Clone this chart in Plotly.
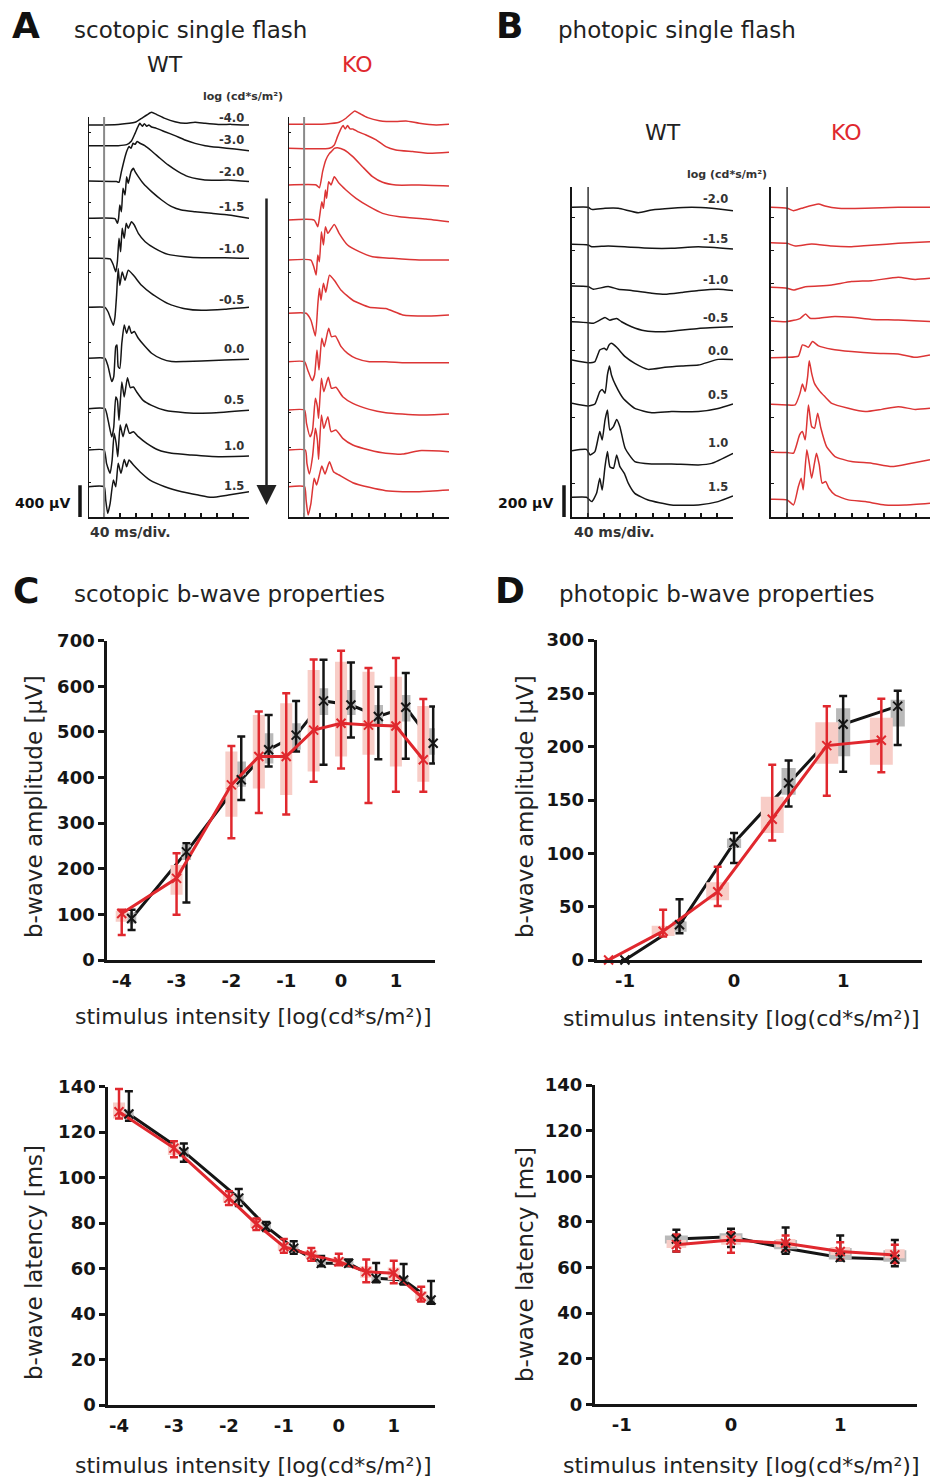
import plotly.graph_objects as go

W, H = 930, 1478
FONT = "DejaVu Sans"
BLACK = "#151515"
RED = "#e0282e"
TRACE_RED = "#dc3535"
PINK = "#f8cdc7"
GRAY = "#b9b9b9"

# ---------------- Panel A: scotopic single-flash ERG traces (t [ms], amplitude [µV] re baseline)
scot_levels = ["-4.0", "-3.0", "-2.0", "-1.5", "-1.0", "-0.5", "0.0", "0.5", "1.0", "1.5"]
scot_wt_offset = [4939, 4679, 4234, 3763, 3259, 2642, 2000, 1365, 844, 382]
scot_ko_offset = [4948, 4646, 4183, 3742, 3238, 2567, 1957, 1348, 844, 382]

sw_m40 = [(0,0),(75,8),(117,34),(133,84),(146,126),(158,160),(170,134),(191,84),(216,42),(241,21),(266,34),(291,21),(324,8),(357,8),(400,0)]
sw_m30 = [(0,0),(75,0),(96,13),(108,59),(117,155),(123,227),(129,281),(135,244),(140,277),(146,244),(151,260),(158,235),(170,218),(191,176),(216,126),(241,71),(266,29),(291,0),(324,-21),(365,-42),(400,-63)]
sw_m20 = [(0,0),(71,-8),(77,-17),(83,118),(90,265),(96,370),(102,433),(107,412),(112,475),(117,462),(122,496),(129,475),(141,445),(158,378),(179,286),(199,202),(224,118),(249,55),(274,25),(307,8),(349,13),(400,-8)]
sw_m15 = [(0,0),(67,-4),(73,-63),(76,0),(79,168),(83,84),(87,378),(92,294),(96,525),(100,441),(107,588),(113,630),(117,588),(125,525),(137,441),(158,336),(183,231),(208,147),(232,105),(266,84),(307,63),(349,42),(400,0)]
sw_m10 = [(0,0),(55,-8),(63,-84),(69,-168),(73,-42),(77,252),(81,84),(85,378),(90,252),(95,441),(100,378),(108,462),(115,420),(125,315),(142,210),(166,126),(199,50),(241,21),(282,8),(340,8),(400,0)]
sw_m05 = [(0,0),(42,0),(50,-59),(63,-227),(67,-122),(71,151),(75,488),(79,277),(85,445),(92,340),(100,466),(113,403),(133,277),(158,172),(199,46),(241,-17),(282,-38),(340,-25),(400,0)]
sw_00 = [(0,0),(42,0),(50,-105),(59,-294),(64,-231),(69,147),(72,168),(75,-105),(79,-126),(84,189),(90,420),(96,315),(102,407),(108,315),(115,336),(125,252),(142,147),(158,63),(183,-8),(208,-42),(241,-42),(282,-34),(340,-21),(400,-13)]
sw_05 = [(0,0),(42,0),(50,-147),(59,-357),(64,-231),(69,147),(73,105),(77,-147),(84,336),(90,147),(98,391),(105,265),(113,273),(121,210),(137,105),(158,42),(191,-21),(241,-50),(307,-55),(400,-21)]
sw_10 = [(0,0),(40,0),(46,-168),(55,-294),(60,-126),(65,210),(70,84),(74,-84),(80,315),(87,168),(95,328),(103,210),(113,231),(125,168),(146,84),(175,0),(208,-42),(257,-63),(324,-84),(400,-76)]
sw_15 = [(0,0),(40,0),(44,-168),(49,-336),(55,-210),(63,84),(69,0),(75,294),(82,168),(90,344),(96,252),(102,336),(113,273),(129,189),(154,84),(191,0),(233,-63),(274,-105),(307,-134),(349,-105),(400,-63)]

sk_m40 = [(0,0),(94,4),(127,25),(144,76),(156,130),(166,168),(177,139),(198,84),(227,46),(268,34),(293,42),(326,13),(368,-8),(400,0)]
sk_m30 = [(0,0),(103,0),(115,42),(123,147),(132,252),(137,286),(142,244),(148,286),(154,244),(161,244),(173,210),(194,168),(219,105),(243,21),(268,-21),(310,-42),(351,-63),(400,-50)]
sk_m20 = [(0,0),(70,0),(78,-34),(86,168),(94,315),(103,399),(109,428),(115,462),(123,470),(140,441),(161,357),(185,231),(210,105),(235,34),(268,0),(326,0),(400,-13)]
sk_m15 = [(0,0),(65,0),(74,-84),(79,63),(84,231),(88,147),(93,378),(96,273),(101,483),(107,441),(115,546),(127,462),(144,378),(169,273),(202,168),(235,84),(277,42),(343,13),(400,-21)]
sk_m10 = [(0,0),(57,0),(64,-84),(70,-189),(74,63),(78,-21),(83,357),(88,189),(93,420),(99,336),(115,449),(127,336),(148,189),(177,105),(210,42),(260,21),(326,0),(400,0)]
sk_m05 = [(0,0),(45,0),(57,-88),(68,-285),(74,105),(78,315),(82,164),(88,378),(94,265),(103,479),(115,416),(132,290),(161,164),(202,76),(243,59),(285,-21),(343,-34),(400,-21)]
sk_00 = [(0,0),(41,0),(49,-105),(60,-239),(66,-168),(72,147),(77,-105),(84,294),(90,189),(101,420),(108,315),(118,323),(132,189),(148,105),(169,42),(202,0),(243,0),(293,-13),(400,-13)]
sk_05 = [(0,0),(41,0),(46,-168),(55,-336),(61,-252),(68,147),(73,42),(76,-105),(83,399),(89,231),(100,412),(108,273),(119,286),(136,168),(161,84),(202,8),(243,-34),(326,-63),(400,-50)]
sk_10 = [(0,0),(43,0),(47,-168),(53,-302),(61,-84),(68,273),(73,126),(76,-118),(83,441),(89,273),(99,420),(107,231),(119,252),(136,147),(161,63),(202,0),(243,-42),(285,-50),(326,-8),(400,-21)]
sk_15 = [(0,0),(41,0),(45,-168),(50,-357),(57,-210),(65,105),(71,21),(78,147),(84,260),(92,160),(103,315),(113,189),(127,147),(161,50),(202,-8),(243,-50),(285,-63),(326,-63),(400,-42)]

# ---------------- Panel B: photopic single-flash ERG traces
phot_levels = ["-2.0", "-1.5", "-1.0", "-0.5", "0.0", "0.5", "1.0", "1.5"]
phot_wt_offset = [1951, 1718, 1456, 1230, 989, 716, 418, 124]
phot_ko_offset = [1951, 1728, 1447, 1235, 1004, 710, 408, 112]

pw_m20 = [(0,0),(40,0),(49,-13),(82,-6),(115,-6),(165,-34),(198,-17),(247,-6),(297,0),(347,-6),(400,-21)]
pw_m15 = [(0,0),(40,-4),(49,-15),(90,-10),(148,-19),(198,-25),(247,-25),(314,-15),(400,-29)]
pw_m10 = [(0,0),(40,-4),(53,-21),(90,-4),(115,-21),(148,-29),(198,-46),(231,-53),(272,-42),(314,-29),(363,-21),(400,-29)]
pw_m05 = [(0,0),(40,-6),(53,-10),(69,10),(82,27),(94,10),(111,21),(123,0),(148,-31),(181,-57),(231,-63),(314,-42),(400,-32)]
pw_00 = [(0,0),(40,-17),(57,-10),(69,63),(80,74),(86,63),(92,95),(98,105),(111,80),(132,21),(156,-21),(189,-59),(231,-46),(272,-38),(314,-32),(363,4),(400,4)]
pw_05 = [(0,0),(40,-17),(57,-4),(69,74),(75,88),(82,63),(88,179),(93,235),(98,179),(108,116),(127,32),(156,-32),(198,-59),(247,-52),(314,-52),(363,-32),(400,-4)]
pw_10 = [(0,0),(36,8),(45,-27),(57,-6),(69,120),(75,67),(82,193),(88,256),(94,130),(103,151),(111,197),(119,151),(132,15),(156,-69),(198,-84),(247,-84),(314,-90),(347,-80),(400,-17)]
pw_15 = [(0,0),(36,0),(49,-27),(61,25),(69,120),(75,46),(82,193),(88,288),(94,193),(103,183),(111,267),(119,193),(130,151),(140,88),(156,25),(189,-17),(247,-48),(314,-48),(363,-27),(400,8)]

pk_m20 = [(0,0),(40,-6),(56,-21),(76,-6),(118,21),(134,8),(167,-6),(234,-6),(316,0),(395,0)]
pk_m15 = [(0,0),(40,-4),(60,-21),(101,-8),(151,-21),(200,-25),(258,-15),(316,-4),(395,6)]
pk_m10 = [(0,0),(40,-6),(56,-17),(85,4),(118,8),(151,15),(200,36),(250,42),(316,63),(358,50),(395,57)]
pk_m05 = [(0,0),(40,-4),(72,15),(86,44),(97,17),(118,17),(151,27),(200,23),(250,10),(316,6),(395,-4)]
pk_00 = [(0,0),(40,2),(68,10),(78,80),(86,74),(93,65),(103,101),(118,74),(151,53),(200,38),(258,27),(316,23),(358,2),(395,17)]
pk_05 = [(0,0),(40,-4),(60,-4),(72,69),(78,128),(85,80),(91,174),(95,275),(101,195),(108,132),(122,80),(134,48),(151,6),(192,-25),(234,-46),(275,-32),(316,-15),(358,-32),(395,-25)]
pk_10 = [(0,0),(40,-2),(56,-6),(71,109),(78,130),(85,78),(93,298),(101,162),(108,151),(116,246),(124,151),(138,36),(159,-27),(200,-59),(250,-69),(300,-90),(349,-69),(395,-48)]
pk_15 = [(0,0),(40,-4),(56,-36),(68,80),(75,132),(80,59),(89,311),(95,227),(101,132),(108,227),(113,290),(120,216),(127,101),(136,111),(144,69),(159,27),(192,-4),(234,-15),(283,-36),(333,-36),(395,-25)]

# ---------------- Panel C: scotopic b-wave properties
scot_int = [-4, -3, -2, -1.5, -1, -0.5, 0, 0.5, 1, 1.5]
scot_ticks = [-4, -3, -2, -1, 0, 1]
scot_ticktext = ["-4", "-3", "-2", "-1", "0", "1"]

scot_amp_wt_mean = [91, 237, 395, 461, 493, 568, 559, 534, 554, 475]
scot_amp_wt_q1 = [80, 219, 380, 431, 461, 537, 537, 512, 523, 450]
scot_amp_wt_q3 = [104, 252, 435, 497, 519, 596, 592, 559, 581, 508]
scot_amp_wt_lo = [66, 126, 351, 424, 457, 428, 488, 440, 441, 431]
scot_amp_wt_hi = [110, 256, 490, 537, 568, 658, 652, 599, 629, 556]
scot_amp_ko_mean = [102, 179, 384, 446, 446, 504, 519, 515, 513, 439]
scot_amp_ko_q1 = [84, 143, 314, 376, 362, 413, 446, 450, 424, 391]
scot_amp_ko_q3 = [108, 208, 457, 537, 563, 636, 654, 632, 621, 557]
scot_amp_ko_lo = [55, 99, 267, 322, 319, 391, 420, 344, 369, 369]
scot_amp_ko_hi = [110, 234, 469, 545, 585, 659, 678, 640, 662, 572]

scot_lat_wt_mean = [128, 111.4, 91, 78.4, 69, 62.3, 62.3, 55.7, 55, 46.2]
scot_lat_wt_q1 = [126, 109, 89, 77, 67.5, 61.5, 61.5, 54.5, 54, 45]
scot_lat_wt_q3 = [130, 113, 93, 80, 70.5, 64, 63.5, 57, 56.5, 48]
scot_lat_wt_lo = [125, 107, 87.5, 76.5, 66.5, 61, 61, 54, 53, 44.5]
scot_lat_wt_hi = [138, 115, 95, 80.5, 72, 65.5, 64, 62.5, 62, 54.5]
scot_lat_ko_mean = [129, 113, 91, 79.6, 69.6, 66, 63, 58.6, 58, 47.7]
scot_lat_ko_q1 = [126, 110, 89, 78, 68, 64.5, 62, 56, 55, 46]
scot_lat_ko_q3 = [133, 115, 93, 81.5, 71.5, 68, 65, 61, 60.5, 50]
scot_lat_ko_lo = [126, 109, 88, 77, 67, 63.5, 61.5, 54, 53.5, 45.5]
scot_lat_ko_hi = [139, 116, 94, 82, 73, 69, 66.5, 64, 63.5, 52]

# ---------------- Panel D: photopic b-wave properties
phot_amp_int = [-1, -0.5, 0, 0.5, 1, 1.5]
phot_ticks = [-1, 0, 1]
phot_ticktext = ["-1", "0", "1"]
phot_amp_wt_mean = [0, 33, 110, 166, 221, 238]
phot_amp_wt_q1 = [0, 26.6, 105, 155, 191, 219]
phot_amp_wt_q3 = [0, 36, 114, 180, 236, 244]
phot_amp_wt_lo = [0, 25, 91, 144, 176.5, 201.5]
phot_amp_wt_hi = [0, 57, 119, 187, 247.5, 252.5]
phot_amp_ko_mean = [0, 27, 64, 132, 201, 206]
phot_amp_ko_q1 = [0, 22.5, 56, 119, 184, 183]
phot_amp_ko_q3 = [0, 32, 73, 153, 223, 227]
phot_amp_ko_lo = [0, 22, 50.6, 112, 154, 176]
phot_amp_ko_hi = [0, 47, 87.5, 183, 238, 245]

phot_lat_int = [-0.5, 0, 0.5, 1, 1.5]
phot_lat_wt_mean = [72.5, 73.5, 68.4, 64.4, 63.6]
phot_lat_wt_q1 = [70.5, 71, 68, 63.5, 62.5]
phot_lat_wt_q3 = [74, 75, 72, 68.5, 67.5]
phot_lat_wt_lo = [67, 69, 66, 63, 60.5]
phot_lat_wt_hi = [76.5, 77, 77.5, 74, 72]
phot_lat_ko_mean = [70, 72, 70.6, 67, 65.5]
phot_lat_ko_q1 = [68.5, 70, 69, 65.5, 64]
phot_lat_ko_q3 = [72, 74, 72.5, 69, 68]
phot_lat_ko_lo = [67, 66.5, 67.5, 63.5, 62]
phot_lat_ko_hi = [74.5, 75.5, 74, 71, 70]

# ======================================================================
def px(x):
    return x / W


def py(y):
    return 1 - y / H


fig = go.Figure()


def add_erg(traces, offsets, xa, ya, color):
    for tr, off in zip(traces, offsets):
        fig.add_trace(go.Scatter(
            x=[p[0] for p in tr], y=[p[1] + off for p in tr], mode="lines",
            line=dict(color=color, width=1.5, shape="spline", smoothing=0.5),
            xaxis=xa, yaxis=ya, showlegend=False, hoverinfo="skip"))


add_erg([sw_m40, sw_m30, sw_m20, sw_m15, sw_m10, sw_m05, sw_00, sw_05, sw_10, sw_15],
        scot_wt_offset, "x", "y", BLACK)
add_erg([sk_m40, sk_m30, sk_m20, sk_m15, sk_m10, sk_m05, sk_00, sk_05, sk_10, sk_15],
        scot_ko_offset, "x2", "y2", TRACE_RED)
add_erg([pw_m20, pw_m15, pw_m10, pw_m05, pw_00, pw_05, pw_10, pw_15],
        phot_wt_offset, "x3", "y3", BLACK)
add_erg([pk_m20, pk_m15, pk_m10, pk_m05, pk_00, pk_05, pk_10, pk_15],
        phot_ko_offset, "x4", "y4", TRACE_RED)


def box_poly(xs, q1, q3, dodge, w):
    X, Y = [], []
    for x, a, b in zip(xs, q1, q3):
        xc = x + dodge
        X += [xc - w / 2, xc + w / 2, xc + w / 2, xc - w / 2, xc - w / 2, None]
        Y += [a, a, b, b, a, None]
    return X, Y


def add_summary(xa, ya, xs_wt, xs_ko, wt, ko, d_wt, d_ko, w_wt, w_ko):
    # wt / ko: (mean, q1, q3, lo, hi)
    xw = [x + d_wt for x in xs_wt]
    xk = [x + d_ko for x in xs_ko]
    common = dict(xaxis=xa, yaxis=ya, showlegend=False, hoverinfo="skip", cliponaxis=False)
    fig.add_trace(go.Scatter(x=xw, y=wt[0], mode="lines", line=dict(color=BLACK, width=3), **common))
    bx, by = box_poly(xs_wt, wt[1], wt[2], d_wt, w_wt)
    fig.add_trace(go.Scatter(x=bx, y=by, mode="lines", fill="toself", fillcolor=GRAY,
                             line=dict(width=0, color=GRAY), **common))
    bx, by = box_poly(xs_ko, ko[1], ko[2], d_ko, w_ko)
    fig.add_trace(go.Scatter(x=bx, y=by, mode="lines", fill="toself", fillcolor=PINK,
                             line=dict(width=0, color=PINK), **common))
    for xx, s, col in ((xw, wt, BLACK), (xk, ko, RED)):
        fig.add_trace(go.Scatter(
            x=xx, y=s[0], mode="markers", marker=dict(size=2, color="rgba(0,0,0,0)"),
            error_y=dict(type="data", symmetric=False,
                         array=[h - m for h, m in zip(s[4], s[0])],
                         arrayminus=[m - l for m, l in zip(s[0], s[3])],
                         color=col, thickness=2.5, width=4),
            **common))
    fig.add_trace(go.Scatter(x=xk, y=ko[0], mode="lines", line=dict(color=RED, width=3), **common))
    fig.add_trace(go.Scatter(x=xw, y=wt[0], mode="markers",
                             marker=dict(symbol="x-thin", size=9, line=dict(width=2, color=BLACK)), **common))
    fig.add_trace(go.Scatter(x=xk, y=ko[0], mode="markers",
                             marker=dict(symbol="x-thin", size=9, line=dict(width=2, color=RED)), **common))


add_summary("x5", "y5", scot_int, scot_int,
            (scot_amp_wt_mean, scot_amp_wt_q1, scot_amp_wt_q3, scot_amp_wt_lo, scot_amp_wt_hi),
            (scot_amp_ko_mean, scot_amp_ko_q1, scot_amp_ko_q3, scot_amp_ko_lo, scot_amp_ko_hi),
            0.18, 0.0, 0.17, 0.22)
add_summary("x6", "y6", phot_amp_int, phot_amp_int,
            (phot_amp_wt_mean, phot_amp_wt_q1, phot_amp_wt_q3, phot_amp_wt_lo, phot_amp_wt_hi),
            (phot_amp_ko_mean, phot_amp_ko_q1, phot_amp_ko_q3, phot_amp_ko_lo, phot_amp_ko_hi),
            0.0, -0.15, 0.13, 0.21)
add_summary("x7", "y7", scot_int, scot_int,
            (scot_lat_wt_mean, scot_lat_wt_q1, scot_lat_wt_q3, scot_lat_wt_lo, scot_lat_wt_hi),
            (scot_lat_ko_mean, scot_lat_ko_q1, scot_lat_ko_q3, scot_lat_ko_lo, scot_lat_ko_hi),
            0.18, 0.0, 0.17, 0.22)
add_summary("x8", "y8", phot_lat_int, phot_lat_int,
            (phot_lat_wt_mean, phot_lat_wt_q1, phot_lat_wt_q3, phot_lat_wt_lo, phot_lat_wt_hi),
            (phot_lat_ko_mean, phot_lat_ko_q1, phot_lat_ko_q3, phot_lat_ko_lo, phot_lat_ko_hi),
            0.0, 0.0, 0.21, 0.18)

# ---------------- axes
SCOT_FRAME_TOP = 5040   # µV at the top of the scotopic frame (117 px)
PHOT_FRAME_TOP = 2079   # µV at the top of the photopic frame (187 px)


def erg_x(left, right, rng):
    return dict(domain=[px(left), px(right)], range=rng, showline=True, linecolor=BLACK, linewidth=2,
                ticks="inside", tick0=0, dtick=40, ticklen=4, tickwidth=1.5, tickcolor=BLACK,
                showticklabels=False, showgrid=False, zeroline=False, automargin=False)


def erg_y(top, bottom, rng, dt, line=True):
    return dict(domain=[py(bottom), py(top)], range=rng, showline=line, linecolor=BLACK, linewidth=2,
                ticks="inside", tick0=0, dtick=dt, ticklen=3, tickwidth=1, tickcolor=BLACK,
                showticklabels=False, showgrid=False, zeroline=False, automargin=False)


TICKFONT = dict(family=FONT, size=18, color=BLACK, weight="bold")


def sum_x(left, right, rng, tv, tt):
    return dict(domain=[px(left), px(right)], range=rng, showline=True, linecolor=BLACK, linewidth=3,
                ticks="", tickvals=tv, ticktext=tt, tickfont=TICKFONT, ticklabelstandoff=2,
                showgrid=False, zeroline=False, automargin=False)


def sum_y(top, bottom, rng, dt):
    return dict(domain=[py(bottom), py(top)], range=rng, showline=True, linecolor=BLACK, linewidth=3,
                ticks="outside", ticklen=6, tickwidth=3, tickcolor=BLACK, tick0=0, dtick=dt,
                tickfont=TICKFONT, showgrid=False, zeroline=False, automargin=False)


# scotopic plot area extends a few px above the frame so the -4.0 b-wave peak is not clipped
scot_top_ext = SCOT_FRAME_TOP + 8 * 12.6
layout = dict(
    width=W, height=H, margin=dict(l=0, r=0, t=0, b=0, autoexpand=False),
    paper_bgcolor="white", plot_bgcolor="white", showlegend=False,
    font=dict(family=FONT, color=BLACK),
    xaxis=erg_x(88, 249, [0, 400]), yaxis=erg_y(109, 517, [0, scot_top_ext], 440, line=False),
    xaxis2=erg_x(288, 449, [0, 400]), yaxis2=erg_y(109, 517, [0, scot_top_ext], 440, line=False),
    xaxis3=erg_x(572, 733, [0, 400]), yaxis3=erg_y(187, 517, [0, PHOT_FRAME_TOP], 210),
    xaxis4=erg_x(771, 930, [0, 395]), yaxis4=erg_y(187, 517, [0, PHOT_FRAME_TOP], 210),
    xaxis5=sum_x(107.3, 435, [-4.263, 1.713], scot_ticks, scot_ticktext),
    yaxis5=sum_y(640.7, 960, [0, 700], 100),
    xaxis6=sum_x(596.7, 921.7, [-1.259, 1.72], phot_ticks, phot_ticktext),
    yaxis6=sum_y(640, 960, [0, 300], 50),
    xaxis7=sum_x(108.3, 435, [-4.195, 1.751], scot_ticks, scot_ticktext),
    yaxis7=sum_y(1086.7, 1405, [0, 140], 20),
    xaxis8=sum_x(595, 916.7, [-1.245, 1.70], phot_ticks, phot_ticktext),
    yaxis8=sum_y(1085, 1404.3, [0, 140], 20),
)
for i in range(1, 9):
    s = "" if i == 1 else str(i)
    layout["xaxis" + s]["anchor"] = "y" + s
    layout["yaxis" + s]["anchor"] = "x" + s
fig.update_layout(**layout)

# left frame lines of the scotopic panels (up to the frame top only)
for xr, yr in (("x", "y"), ("x2", "y2")):
    fig.add_shape(type="line", xref=xr, yref=yr, x0=0, x1=0, y0=0, y1=SCOT_FRAME_TOP,
                  line=dict(color=BLACK, width=2))

# flash markers (stimulus onset at 40 ms)
for xr, yr, top, col, wd in (("x", "y", SCOT_FRAME_TOP, "#8a8a8a", 2), ("x2", "y2", SCOT_FRAME_TOP, "#8a8a8a", 2),
                             ("x3", "y3", PHOT_FRAME_TOP, "#333333", 1.5), ("x4", "y4", PHOT_FRAME_TOP, "#333333", 1.5)):
    fig.add_shape(type="line", xref=xr, yref=yr, x0=40, x1=40, y0=0, y1=top,
                  line=dict(color=col, width=wd))

# scale bars
fig.add_shape(type="line", xref="paper", yref="y", x0=px(80), x1=px(80), y0=-20, y1=400,
              line=dict(color=BLACK, width=3.5))
fig.add_shape(type="line", xref="paper", yref="y3", x0=px(564), x1=px(564), y0=-10, y1=200,
              line=dict(color=BLACK, width=3.5))

ann = []


def text(x, y, s, size, bold=False, color="#222222", xanchor="center", angle=0):
    ann.append(dict(x=px(x), y=py(y), xref="paper", yref="paper", text=s, showarrow=False,
                    xanchor=xanchor, yanchor="middle", textangle=angle,
                    font=dict(family=FONT, size=size, color=color, weight="bold" if bold else "normal")))


# headings
text(26, 25, "A", 36, True, "#111111")
text(72, 30, "scotopic single flash", 23, xanchor="left")
text(510, 25, "B", 36, True, "#111111")
text(556, 30, "photopic single flash", 23, xanchor="left")
text(26, 590, "C", 36, True, "#111111")
text(72, 594, "scotopic b-wave properties", 23, xanchor="left")
text(510, 590, "D", 36, True, "#111111")
text(557, 594, "photopic b-wave properties", 23, xanchor="left")

text(165, 65, "WT", 22)
text(357, 65, "KO", 22, color=RED)
text(663, 132, "WT", 22)
text(846, 132, "KO", 22, color=RED)

text(243, 97, "log (cd*s/m²)", 11, True, "#333333")
text(727, 174, "log (cd*s/m²)", 11, True, "#333333")

scot_label_y = [118, 140, 172, 207, 249, 300, 349, 400, 446, 486]
for lab, yy in zip(scot_levels, scot_label_y):
    text(246, yy, lab, 11.5, True, "#333333", xanchor="right")
phot_label_y = [199, 239, 280, 318, 351, 395, 443, 487]
for lab, yy in zip(phot_levels, phot_label_y):
    text(730, yy, lab, 11.5, True, "#333333", xanchor="right")

text(72, 503, "400 µV", 14, True, "#111111", xanchor="right")
text(88, 532, "40 ms/div.", 14, True, "#333333", xanchor="left")
text(555, 503, "200 µV", 14, True, "#111111", xanchor="right")
text(572, 532, "40 ms/div.", 14, True, "#333333", xanchor="left")

# axis titles
text(34, 807, "b-wave amplitude [µV]", 23, angle=-90)
text(253, 1017, "stimulus intensity [log(cd*s/m²)]", 22)
text(525, 807, "b-wave amplitude [µV]", 23, angle=-90)
text(741, 1018, "stimulus intensity [log(cd*s/m²)]", 22)
text(34, 1263, "b-wave latency [ms]", 23, angle=-90)
text(253, 1465, "stimulus intensity [log(cd*s/m²)]", 22)
text(525, 1265, "b-wave latency [ms]", 23, angle=-90)
text(741, 1465, "stimulus intensity [log(cd*s/m²)]", 22)

# intensity arrow
ann.append(dict(x=px(266.5), y=py(505), xref="paper", yref="paper",
                axref="pixel", ayref="pixel", ax=0, ay=-308, text="", showarrow=True,
                arrowhead=2, arrowsize=1.6, arrowwidth=2.5, arrowcolor="#222222"))

fig.update_layout(annotations=ann)
fig.write_html("out.html", config={"displayModeBar": False},
               post_script="document.body.style.margin='0px';")
